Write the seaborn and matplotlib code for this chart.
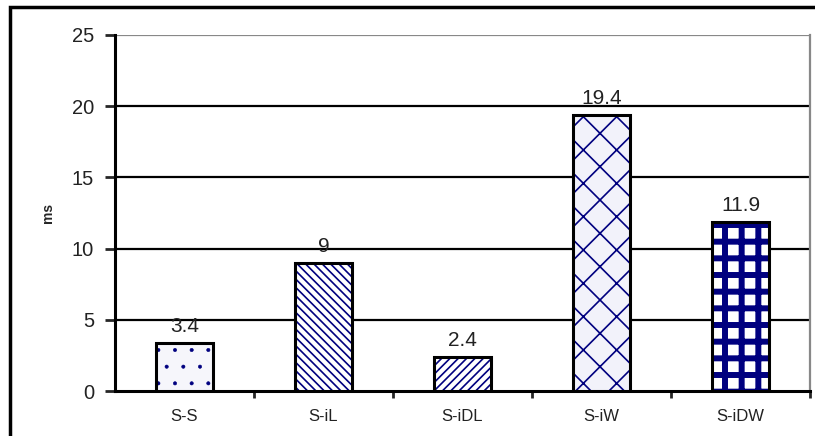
import matplotlib
matplotlib.use('Agg')
import matplotlib.pyplot as plt
import seaborn as sns
import pandas as pd
from matplotlib.patches import Rectangle

# values
methods = ['S-S', 'S-iL', 'S-iDL', 'S-iW', 'S-iDW']
times_ms = [3.4, 9, 2.4, 19.4, 11.9]
value_labels = ['3.4', '9', '2.4', '19.4', '11.9']
hatches = ['.', '\\\\\\\\', '////', 'x', '+']
hatch_widths = [0.4, 1.2, 1.2, 1.2, 4.3]
faces = ['#f6f6fb', 'white', 'white', '#f2f2fa', 'white']

df = pd.DataFrame({'method': methods, 'ms': times_ms})

sns.set_style('white')
plt.rcParams['font.family'] = ['Liberation Sans', 'DejaVu Sans']

fig = plt.figure(figsize=(8.15, 4.36), dpi=100)
ax = fig.add_axes([0.141, 0.103, 0.853, 0.817])

# hatched fill, navy hatch
sns.barplot(data=df, x='method', y='ms', order=methods, width=0.41,
            color='white', edgecolor='#00007f', linewidth=0, ax=ax, zorder=3)
for p, h, hw, fc in zip(ax.patches, hatches, hatch_widths, faces):
    p.set_facecolor(fc)
    p.set_hatch(h)
    if hasattr(p, 'set_hatch_linewidth'):
        p.set_hatch_linewidth(hw)

# black outline on top
sns.barplot(data=df, x='method', y='ms', order=methods, width=0.41,
            fill=False, edgecolor='black', linewidth=2.2, ax=ax, zorder=4)

for i, (v, lab) in enumerate(zip(times_ms, value_labels)):
    ax.text(i, v + 0.45, lab, ha='center', va='bottom', fontsize=15,
            color='#222222', zorder=5)

ax.set_ylim(0, 25)
ax.set_xlim(-0.5, 4.5)
ax.set_yticks([0, 5, 10, 15, 20, 25])
for yv in [5, 10, 15, 20]:
    ax.axhline(yv, color='black', linewidth=1.6, zorder=1)
ax.axhline(25, color='#888888', linewidth=1.6, zorder=1)

ax.spines['right'].set_color('#888888')
ax.spines['right'].set_linewidth(1.6)
ax.spines['top'].set_visible(False)
ax.spines['left'].set_color('black')
ax.spines['left'].set_linewidth(2.2)
ax.spines['bottom'].set_color('black')
ax.spines['bottom'].set_linewidth(2.2)

ax.tick_params(axis='y', direction='out', length=7, width=2, labelsize=14.5,
               pad=8, left=True, labelcolor='#222222')
ax.set_xticks(range(len(methods)))
ax.set_xticklabels(methods)
ax.tick_params(axis='x', length=0, labelsize=12, pad=13, labelcolor='#222222')
ax.set_xticks([0.5, 1.5, 2.5, 3.5, 4.5], minor=True)
ax.tick_params(axis='x', which='minor', direction='out', length=5, width=2, bottom=True)
ax.set_xlabel('')
ax.set_ylabel('ms', fontsize=10, fontweight='bold', labelpad=12)

# outer frame
fig.patches.append(Rectangle((10 / 815, -0.1), 1.2, (436 - 7) / 436 + 0.1,
                             transform=fig.transFigure, fill=False,
                             edgecolor='black', linewidth=2.5))

fig.savefig('out.png', dpi=100)
